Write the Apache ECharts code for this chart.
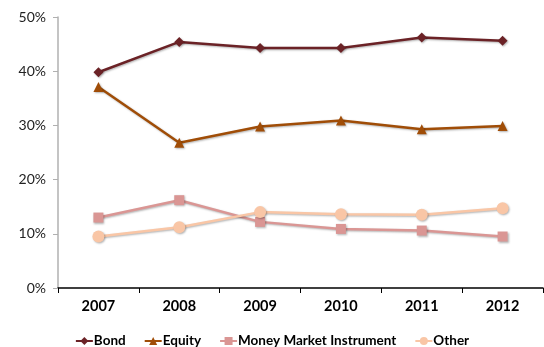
<!DOCTYPE html>
<html><head><meta charset="utf-8">
<script src="https://cdn.jsdelivr.net/npm/echarts@6/dist/echarts.min.js"></script>
<style>html,body{margin:0;padding:0;background:#fff}#c{width:544px;height:347px}</style>
</head><body><div id="c"></div>
<script>
const categories = ['2007','2008','2009','2010','2011','2012'];
const bond = [39.8, 45.4, 44.3, 44.3, 46.2, 45.6];
const equity = [37.1, 26.8, 29.8, 30.9, 29.3, 29.9];
const moneyMarket = [13.0, 16.2, 12.2, 10.9, 10.6, 9.5];
const other = [9.5, 11.2, 14.0, 13.6, 13.5, 14.7];
const yTicks = [0, 10, 20, 30, 40, 50];

const font = 'Lato, "Liberation Sans", sans-serif';
const shadow = {shadowColor:'rgba(0,0,0,0.3)', shadowBlur:2, shadowOffsetX:1, shadowOffsetY:1};
function mk(name, data, color, symbol, size){
  return {name, type:'line', data, symbol, symbolSize:size,
    lineStyle:{color, width:2.5, ...shadow},
    itemStyle:{color, ...shadow},
    emphasis:{disabled:true}, animation:false};
}
const chart = echarts.init(document.getElementById('c'));
chart.setOption({
  animation:false,
  textStyle:{fontFamily:font},
  grid:{left:58, right:1, top:17, bottom:59, containLabel:false},
  legend:{top:334, left:'center', padding:0, itemWidth:17, itemHeight:10, itemGap:18,
    textStyle:{fontFamily:font, fontSize:13.5, fontWeight:'bold', color:'#000', padding:[0,0,0,-4]},
    data:['Bond','Equity','Money Market Instrument','Other']},
  xAxis:{type:'category', data:categories, boundaryGap:true,
    axisLine:{lineStyle:{color:'#000', width:1.5}},
    axisTick:{show:true, length:5, lineStyle:{color:'#000'}},
    axisLabel:{fontFamily:font, fontSize:14.5, fontWeight:'bold', color:'#000', margin:11}},
  yAxis:{type:'value', min:yTicks[0], max:yTicks[yTicks.length-1], interval:10,
    axisLine:{show:true, lineStyle:{color:'#b0b0b0', width:1.5}},
    axisTick:{show:true, length:5, lineStyle:{color:'#b0b0b0'}},
    splitLine:{show:false},
    axisLabel:{fontFamily:font, fontSize:14, color:'#222', margin:12, formatter:v=>v+'%'}},
  series:[
    mk('Bond', bond, '#6B2226', 'diamond', 10),
    mk('Equity', equity, '#A04D07', 'triangle', 10),
    mk('Money Market Instrument', moneyMarket, '#DA9694', 'rect', 10),
    mk('Other', other, '#F9C6A6', 'circle', 12)
  ]
});
</script></body></html>
